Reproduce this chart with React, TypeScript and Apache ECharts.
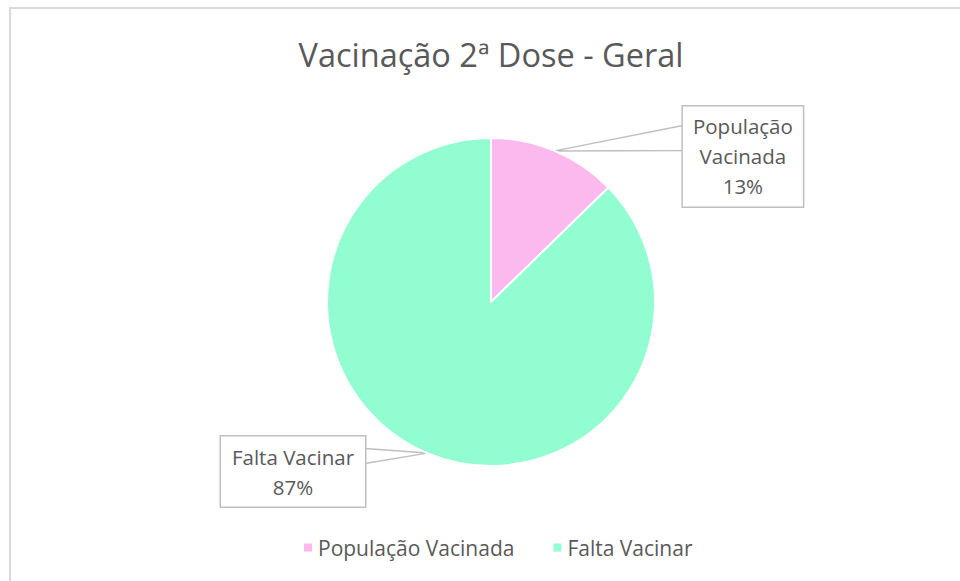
import React, { useEffect, useRef } from "react";
import * as echarts from "echarts";

const titleText = "Vacinação 2ª Dose - Geral";
const categories = ["População Vacinada", "Falta Vacinar"];
const values = [12.7, 87.3];
const colors = ["#FCB9EE", "#91FDD1"];

const FONT = "'Open Sans', sans-serif";
const TEXT = "#595959";
const LINE = "#BFBFBF";

export default function App() {
  const ref = useRef<HTMLDivElement>(null);
  useEffect(() => {
    const chart = echarts.init(ref.current!, null, { renderer: "svg" });
    const CX = 491;
    const CY = 302;
    const R = 164;
    const labelCfg = [
      { width: 100, wrap: true, length: -6, length2: 130.5, base: [-31, -6] },
      { width: 124, wrap: false, length: 20, length2: 54.5, base: [-23, -8] },
    ];
    const total = values.reduce((a, b) => a + b, 0);
    let cum = 0;
    const pointers = values.map((v, i) => {
      const mid = ((cum + v / 2) / total) * 2 * Math.PI;
      cum += v;
      const dx = Math.sin(mid);
      const dy = -Math.cos(mid);
      const tx = CX + R * dx;
      const ty = CY + R * dy;
      const x2 = tx + dx * labelCfg[i].length;
      const y2 = ty + dy * labelCfg[i].length;
      const ex = x2 + (dx < 0 ? -1 : 1) * labelCfg[i].length2;
      return {
        type: "polygon",
        silent: true,
        z: 1,
        shape: {
          points: [
            [tx, ty],
            [ex, y2 + labelCfg[i].base[0]],
            [ex, y2 + labelCfg[i].base[1]],
          ],
        },
        style: { fill: "#ffffff", stroke: LINE, lineWidth: 1.5, lineJoin: "round" },
      };
    });
    chart.setOption({
      animation: false,
      backgroundColor: "#ffffff",
      title: {
        text: titleText,
        left: 486,
        top: 33,
        textAlign: "center",
        textStyle: { fontFamily: FONT, fontSize: 32.5, fontWeight: "normal", color: TEXT },
      },
      legend: {
        data: categories,
        left: 297,
        top: 532,
        icon: "rect",
        itemWidth: 10,
        itemHeight: 10,
        itemGap: 37,
        textStyle: { fontFamily: FONT, fontSize: 21, color: TEXT },
      },
      graphic: [
        {
          type: "rect",
          silent: true,
          z: -10,
          shape: { x: 10, y: 8, width: 980, height: 620 },
          style: { fill: "none", stroke: "#D9D9D9", lineWidth: 2 },
        },
        ...pointers,
      ],
      series: [
        {
          type: "pie",
          center: [CX, CY],
          radius: R,
          startAngle: 90,
          clockwise: true,
          avoidLabelOverlap: false,
          z: 3,
          itemStyle: { borderColor: "#ffffff", borderWidth: 2 },
          label: {
            show: true,
            position: "outside",
            distanceToLabelLine: 0,
            backgroundColor: "#ffffff",
            borderColor: LINE,
            borderWidth: 1.5,
            padding: [5, 10],
            overflow: "none",
            formatter: (p: any) => {
              const lines = labelCfg[p.dataIndex].wrap ? p.name.split(" ") : [p.name];
              lines.push(`${Math.round(p.percent)}%`);
              return lines.map((l: string) => `{a|${l}}`).join("\n");
            },
            rich: {
              a: { fontFamily: FONT, fontSize: 20.5, lineHeight: 30, color: TEXT, align: "center" },
            },
          },
          labelLine: {
            show: true,
            lineStyle: { color: "rgba(0,0,0,0)", width: 0 },
          },
          data: categories.map((name, i) => ({
            name,
            value: values[i],
            itemStyle: { color: colors[i] },
            label: { width: labelCfg[i].width },
            labelLine: { length: labelCfg[i].length, length2: labelCfg[i].length2 },
          })),
        },
      ],
    });
    return () => chart.dispose();
  }, []);
  return (
    <div
      ref={ref}
      style={{ position: "fixed", left: 0, top: 0, width: 960, height: 581 }}
    />
  );
}
